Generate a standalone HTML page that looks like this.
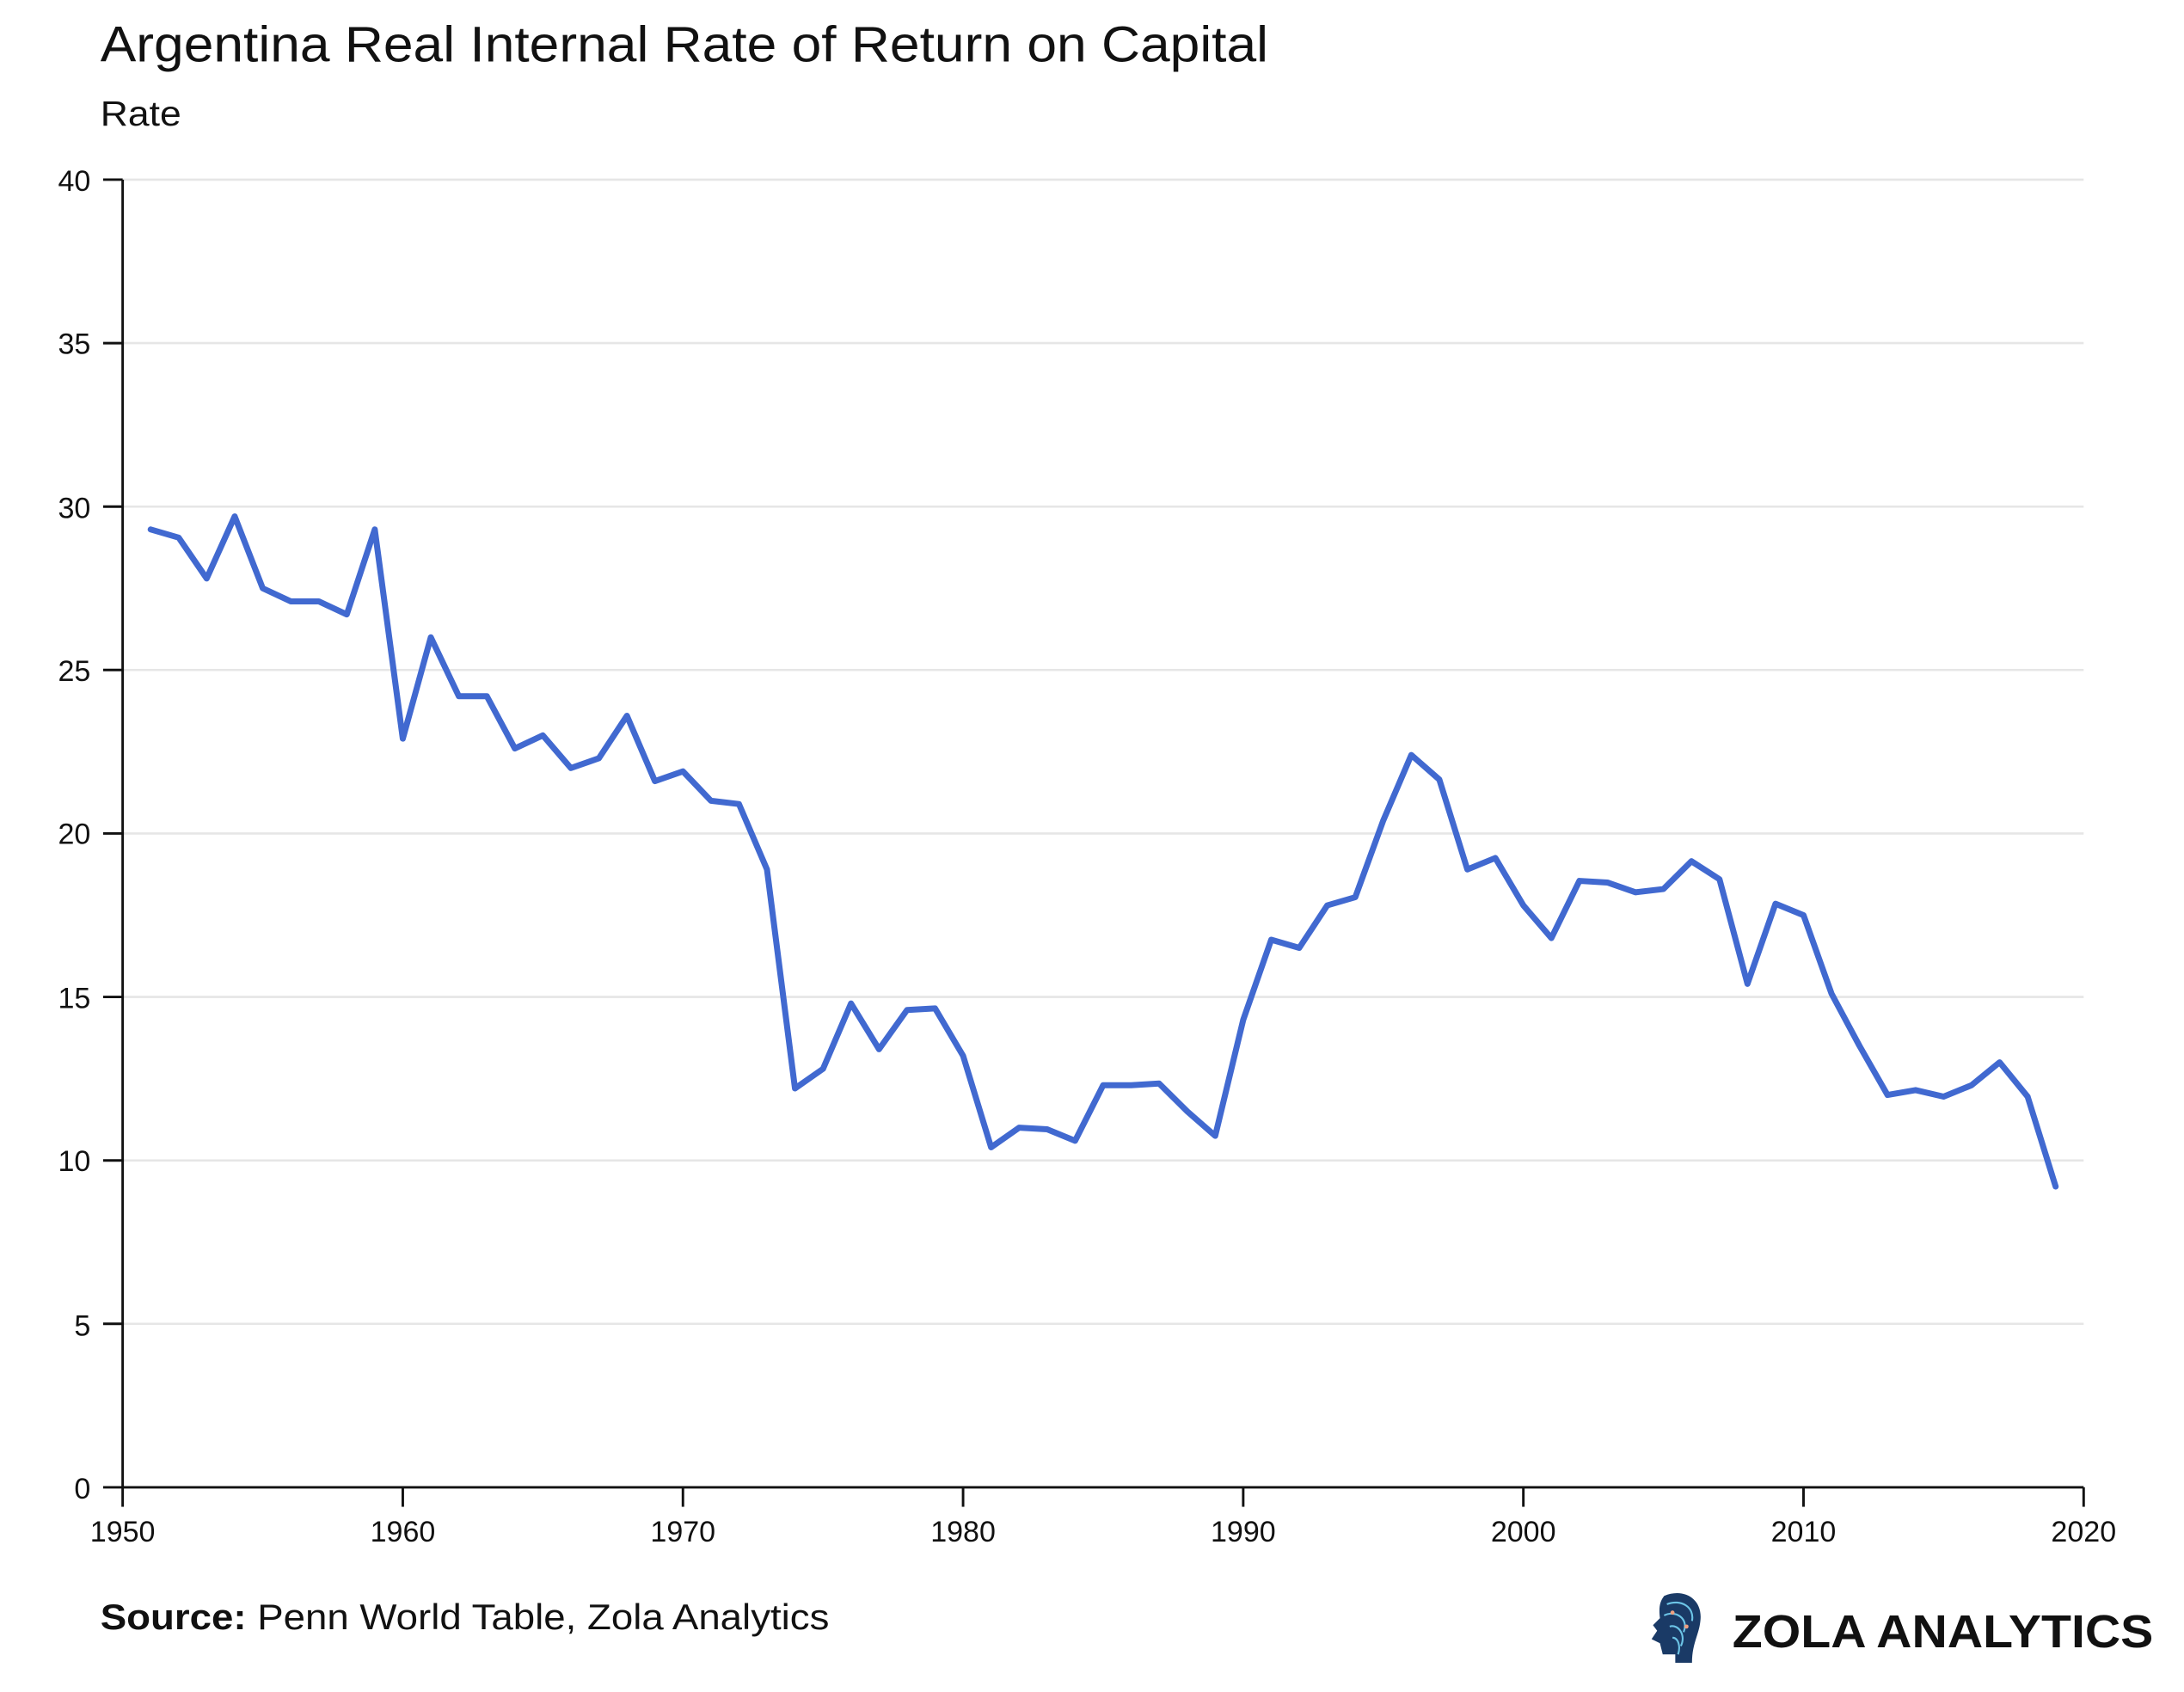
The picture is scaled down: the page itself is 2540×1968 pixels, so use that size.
<!DOCTYPE html>
<html><head><meta charset="utf-8"><style>
html,body{margin:0;padding:0;background:#fff;}
svg{display:block;}
text{font-family:"Liberation Sans",sans-serif;fill:#111;}
</style></head><body>
<svg width="2540" height="1968" viewBox="0 0 1567 1215" preserveAspectRatio="none" xmlns="http://www.w3.org/2000/svg">
<rect width="1567" height="1215" fill="#fff"/>
<text x="72" y="44" font-size="36" textLength="838" lengthAdjust="spacingAndGlyphs">Argentina Real Internal Rate of Return on Capital</text>
<text x="72" y="90" font-size="25" textLength="58" lengthAdjust="spacingAndGlyphs">Rate</text>
<g stroke="#e6e6e6" stroke-width="1.6">
<line x1="88" x2="1495" y1="129" y2="129"/>
<line x1="88" x2="1495" y1="246.4" y2="246.4"/>
<line x1="88" x2="1495" y1="363.8" y2="363.8"/>
<line x1="88" x2="1495" y1="481.1" y2="481.1"/>
<line x1="88" x2="1495" y1="598.5" y2="598.5"/>
<line x1="88" x2="1495" y1="715.9" y2="715.9"/>
<line x1="88" x2="1495" y1="833.3" y2="833.3"/>
<line x1="88" x2="1495" y1="950.6" y2="950.6"/>
</g>
<g stroke="#111" stroke-width="1.8">
<line x1="88" x2="88" y1="129" y2="1068"/>
<line x1="88" x2="1495" y1="1068" y2="1068"/>
<line x1="74" x2="88" y1="129" y2="129"/><line x1="74" x2="88" y1="246.4" y2="246.4"/>
<line x1="74" x2="88" y1="363.8" y2="363.8"/><line x1="74" x2="88" y1="481.1" y2="481.1"/>
<line x1="74" x2="88" y1="598.5" y2="598.5"/><line x1="74" x2="88" y1="715.9" y2="715.9"/>
<line x1="74" x2="88" y1="833.3" y2="833.3"/><line x1="74" x2="88" y1="950.6" y2="950.6"/>
<line x1="74" x2="88" y1="1068" y2="1068"/>
<line x1="88" x2="88" y1="1068" y2="1082"/><line x1="289" x2="289" y1="1068" y2="1082"/>
<line x1="490" x2="490" y1="1068" y2="1082"/><line x1="691" x2="691" y1="1068" y2="1082"/>
<line x1="892" x2="892" y1="1068" y2="1082"/><line x1="1093" x2="1093" y1="1068" y2="1082"/>
<line x1="1294" x2="1294" y1="1068" y2="1082"/><line x1="1495" x2="1495" y1="1068" y2="1082"/>
</g>
<g font-size="21" text-anchor="end">
<text x="65" y="137">40</text><text x="65" y="254">35</text><text x="65" y="372">30</text>
<text x="65" y="489">25</text><text x="65" y="606">20</text><text x="65" y="724">15</text>
<text x="65" y="841">10</text><text x="65" y="959">5</text><text x="65" y="1076">0</text>
</g>
<g font-size="21" text-anchor="middle">
<text x="88" y="1107">1950</text><text x="289" y="1107">1960</text><text x="490" y="1107">1970</text>
<text x="691" y="1107">1980</text><text x="892" y="1107">1990</text><text x="1093" y="1107">2000</text>
<text x="1294" y="1107">2010</text><text x="1495" y="1107">2020</text>
</g>
<g transform="translate(88,1068) scale(20.1,-23.475)">
<polyline fill="none" stroke="#4169d0" stroke-width="7" stroke-linejoin="round" stroke-linecap="round" vector-effect="non-scaling-stroke" points="1,29.3 2,29.05 3,27.8 4,29.7 5,27.5 6,27.1 7,27.1 8,26.7 9,29.3 10,22.9 11,26.0 12,24.2 13,24.2 14,22.6 15,23.0 16,22.0 17,22.3 18,23.6 19,21.6 20,21.9 21,21.0 22,20.9 23,18.9 24,12.2 25,12.8 26,14.8 27,13.4 28,14.6 29,14.65 30,13.2 31,10.4 32,11.0 33,10.95 34,10.6 35,12.3 36,12.3 37,12.35 38,11.5 39,10.75 40,14.3 41,16.75 42,16.5 43,17.8 44,18.05 45,20.4 46,22.4 47,21.65 48,18.9 49,19.25 50,17.8 51,16.8 52,18.55 53,18.5 54,18.2 55,18.3 56,19.15 57,18.6 58,15.4 59,17.85 60,17.5 61,15.1 62,13.5 63,12.0 64,12.15 65,11.95 66,12.3 67,13.0 68,11.95 69,9.2"/>
</g>
<text x="72" y="1170" font-size="26" textLength="523" lengthAdjust="spacingAndGlyphs"><tspan font-weight="bold">Source:</tspan> Penn World Table, Zola Analytics</text>
<g transform="translate(1180,1144)">
<path d="M14 2 C28 -4 42 4 40 20 C39 30 34 36 34 50 L22 50 L22 44 L13 44 L11 36 L5 33 L9 27 L6 23 L11 18 C10 10 11 6 14 2 Z" fill="#1a3a66"/>
<path d="M16 8 C26 4 36 10 34 20 M14 16 C22 12 32 18 28 28 M18 24 C24 22 30 30 26 38 M20 32 C24 32 26 38 24 44" stroke="#6cc4e6" stroke-width="1.3" fill="none"/>
<circle cx="20" cy="14" r="1.5" fill="#f0a080"/><circle cx="30" cy="24" r="1.5" fill="#f0a080"/>
</g>
<text x="1243" y="1183" font-size="33" font-weight="bold" fill="#111" textLength="302" lengthAdjust="spacingAndGlyphs">ZOLA ANALYTICS</text>
</svg>
</body></html>
